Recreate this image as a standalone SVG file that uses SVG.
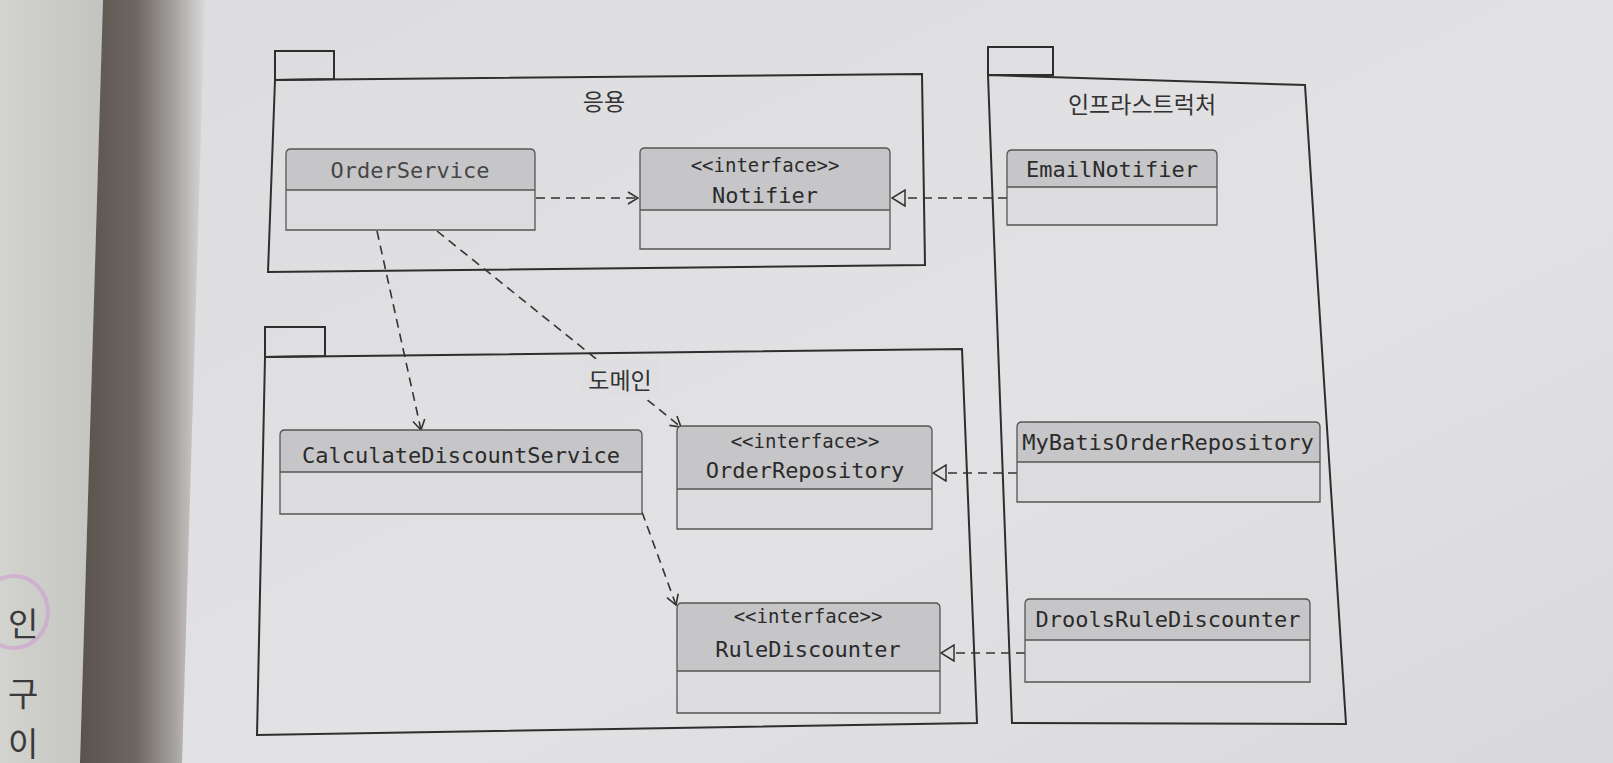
<svg xmlns="http://www.w3.org/2000/svg" width="1613" height="763" viewBox="0 0 1613 763">
<defs>
<linearGradient id="gut" x1="0" y1="0" x2="1" y2="0">
<stop offset="0" stop-color="#5a524c"/>
<stop offset="0.45" stop-color="#6e6761"/>
<stop offset="0.75" stop-color="#a5a19e"/>
<stop offset="1" stop-color="#d9d9db"/>
</linearGradient>
<linearGradient id="lpage" x1="0" y1="0" x2="1" y2="0">
<stop offset="0" stop-color="#d3d3d0"/>
<stop offset="1" stop-color="#c3c3bf"/>
</linearGradient>
<linearGradient id="page" x1="0" y1="0" x2="1" y2="1">
<stop offset="0" stop-color="#dcdcde"/>
<stop offset="0.6" stop-color="#e2e2e4"/>
<stop offset="1" stop-color="#d9d9db"/>
</linearGradient>
<marker id="dep" viewBox="0 0 12 14" refX="11" refY="7" markerWidth="12" markerHeight="14" markerUnits="userSpaceOnUse" orient="auto">
<path d="M1,1 L11,7 L1,13" fill="none" stroke="#333" stroke-width="1.6"/>
</marker>
<marker id="real" viewBox="0 0 15 18" refX="14" refY="9" markerWidth="15" markerHeight="18" markerUnits="userSpaceOnUse" orient="auto">
<path d="M1,1 L14,9 L1,17 Z" fill="#dfdfe1" stroke="#333" stroke-width="1.5"/>
</marker>
</defs>
<style>
.pkg{fill:none;stroke:#2e2e2e;stroke-width:2}
.ttl{fill:#c6c6c8}
.bdy{fill:#dcdcde}
.out{fill:none;stroke:#555;stroke-width:1.3}
.nm{font-family:"DejaVu Sans Mono","Liberation Mono",monospace;font-size:22px;fill:#2b2b2b;text-anchor:middle}
.nm.light{fill:#474747}
.st{font-family:"DejaVu Sans Mono","Liberation Mono",monospace;font-size:19px;fill:#2b2b2b;text-anchor:middle}
.pl{font-family:"Noto Sans CJK KR","Noto Sans",sans-serif;font-size:23px;fill:#333;text-anchor:middle}
.lp{font-family:"Noto Sans CJK KR","Noto Sans",sans-serif;font-size:33px;fill:#3a3a3a}
.dash{fill:none;stroke:#333;stroke-width:1.6;stroke-dasharray:9 6}
</style>

<!-- photo background -->
<rect x="0" y="0" width="1613" height="763" fill="url(#page)"/>
<polygon points="0,0 103,0 80,763 0,763" fill="url(#lpage)"/>
<polygon points="103,0 205,0 182,763 80,763" fill="url(#gut)"/>
<ellipse cx="14" cy="612" rx="34" ry="36" fill="none" stroke="#cf8fcf" stroke-width="4" opacity="0.45"/>
<text class="lp" x="8" y="636">인</text>
<text class="lp" x="8" y="706">구</text>
<text class="lp" x="8" y="756">이</text>

<!-- packages -->
<g id="pkg-app">
<polygon class="pkg" points="275,51 334,51 334,79 275,80"/>
<polygon class="pkg" points="275,80 922,74 925,265 268,272"/>
<text class="pl" x="604" y="110">응용</text>
</g>
<g id="pkg-domain">
<polygon class="pkg" points="265,327 325,327 325,356 265,357"/>
<polygon class="pkg" points="265,357 962,349 977,723 257,735"/>
</g>
<g id="pkg-infra">
<polygon class="pkg" points="988,47 1053,47 1053,75 988,75"/>
<polygon class="pkg" points="988,75 1305,85 1346,724 1012,723"/>
<text class="pl" x="1142" y="113">인프라스트럭처</text>
</g>

<!-- connectors -->
<g id="connectors">
<line class="dash" x1="536" y1="198" x2="638" y2="198" marker-end="url(#dep)"/>
<line class="dash" x1="377" y1="231" x2="421" y2="430" marker-end="url(#dep)"/>
<line class="dash" x1="437" y1="231" x2="681" y2="427" marker-end="url(#dep)"/>
<line class="dash" x1="642" y1="512" x2="676" y2="605" marker-end="url(#dep)"/>
<line class="dash" x1="1007" y1="198" x2="892" y2="198" marker-end="url(#real)"/>
<line class="dash" x1="1017" y1="473" x2="933" y2="473" marker-end="url(#real)"/>
<line class="dash" x1="1025" y1="653" x2="941" y2="653" marker-end="url(#real)"/>
</g>

<!-- domain label over connector -->
<g id="domain-label">
<rect x="580" y="359" width="80" height="38" fill="#dfdfe1"/>
<text class="pl" x="620" y="389">도메인</text>
</g>

<!-- classes -->
<g id="OrderService">
<path class="ttl" d="M286,190 V154 Q286,149 291,149 H530 Q535,149 535,154 V190 Z"/>
<rect class="bdy" x="286" y="190" width="249" height="40"/>
<path class="out" d="M286,230 V154 Q286,149 291,149 H530 Q535,149 535,154 V230 Z M286,190 H535"/>
<text class="nm light" x="410" y="178">OrderService</text>
</g>
<g id="Notifier">
<path class="ttl" d="M640,210 V153 Q640,148 645,148 H885 Q890,148 890,153 V210 Z"/>
<rect class="bdy" x="640" y="210" width="250" height="39"/>
<path class="out" d="M640,249 V153 Q640,148 645,148 H885 Q890,148 890,153 V249 Z M640,210 H890"/>
<text class="st" x="765" y="172">&lt;&lt;interface&gt;&gt;</text>
<text class="nm" x="765" y="203">Notifier</text>
</g>
<g id="EmailNotifier">
<path class="ttl" d="M1007,187 V155 Q1007,150 1012,150 H1212 Q1217,150 1217,155 V187 Z"/>
<rect class="bdy" x="1007" y="187" width="210" height="38"/>
<path class="out" d="M1007,225 V155 Q1007,150 1012,150 H1212 Q1217,150 1217,155 V225 Z M1007,187 H1217"/>
<text class="nm" x="1112" y="177">EmailNotifier</text>
</g>
<g id="CalculateDiscountService">
<path class="ttl" d="M280,472 V435 Q280,430 285,430 H637 Q642,430 642,435 V472 Z"/>
<rect class="bdy" x="280" y="472" width="362" height="42"/>
<path class="out" d="M280,514 V435 Q280,430 285,430 H637 Q642,430 642,435 V514 Z M280,472 H642"/>
<text class="nm" x="461" y="463">CalculateDiscountService</text>
</g>
<g id="OrderRepository">
<path class="ttl" d="M677,489 V431 Q677,426 682,426 H927 Q932,426 932,431 V489 Z"/>
<rect class="bdy" x="677" y="489" width="255" height="40"/>
<path class="out" d="M677,529 V431 Q677,426 682,426 H927 Q932,426 932,431 V529 Z M677,489 H932"/>
<text class="st" x="805" y="448">&lt;&lt;interface&gt;&gt;</text>
<text class="nm" x="805" y="478">OrderRepository</text>
</g>
<g id="MyBatisOrderRepository">
<path class="ttl" d="M1017,462 V427 Q1017,422 1022,422 H1315 Q1320,422 1320,427 V462 Z"/>
<rect class="bdy" x="1017" y="462" width="303" height="40"/>
<path class="out" d="M1017,502 V427 Q1017,422 1022,422 H1315 Q1320,422 1320,427 V502 Z M1017,462 H1320"/>
<text class="nm" x="1168" y="450">MyBatisOrderRepository</text>
</g>
<g id="RuleDiscounter">
<path class="ttl" d="M677,671 V608 Q677,603 682,603 H935 Q940,603 940,608 V671 Z"/>
<rect class="bdy" x="677" y="671" width="263" height="42"/>
<path class="out" d="M677,713 V608 Q677,603 682,603 H935 Q940,603 940,608 V713 Z M677,671 H940"/>
<text class="st" x="808" y="623">&lt;&lt;interface&gt;&gt;</text>
<text class="nm" x="808" y="657">RuleDiscounter</text>
</g>
<g id="DroolsRuleDiscounter">
<path class="ttl" d="M1025,640 V604 Q1025,599 1030,599 H1305 Q1310,599 1310,604 V640 Z"/>
<rect class="bdy" x="1025" y="640" width="285" height="42"/>
<path class="out" d="M1025,682 V604 Q1025,599 1030,599 H1305 Q1310,599 1310,604 V682 Z M1025,640 H1310"/>
<text class="nm" x="1168" y="627">DroolsRuleDiscounter</text>
</g>
</svg>
